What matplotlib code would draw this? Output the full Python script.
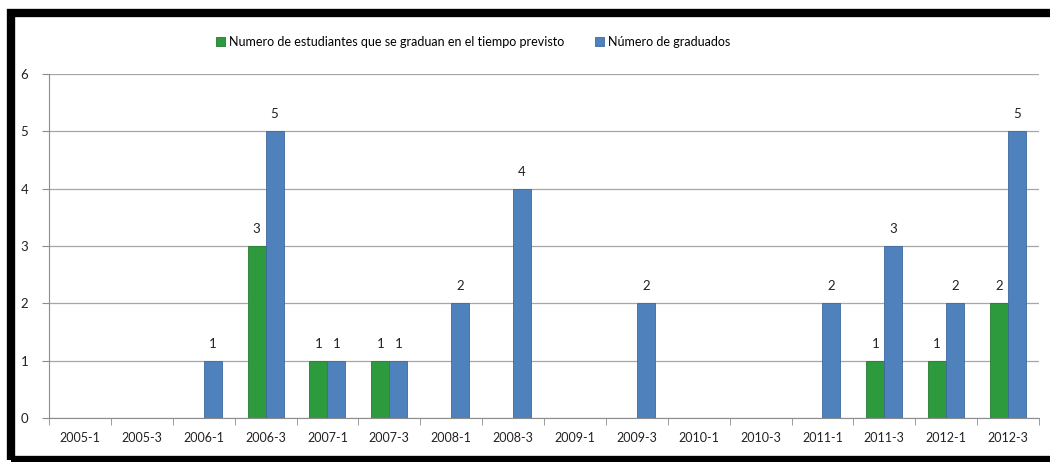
import numpy as np
import matplotlib.pyplot as plt
from matplotlib.patches import Rectangle

# Graduates per period
periods = ['2005-1', '2005-3', '2006-1', '2006-3', '2007-1', '2007-3', '2008-1', '2008-3',
           '2009-1', '2009-3', '2010-1', '2010-3', '2011-1', '2011-3', '2012-1', '2012-3']
a_tiempo = [0, 0, 0, 3, 1, 1, 0, 0, 0, 0, 0, 0, 0, 1, 1, 2]
graduados = [0, 0, 1, 5, 1, 1, 2, 4, 0, 2, 0, 0, 2, 3, 2, 5]

plt.rcParams['font.family'] = ['Lato', 'DejaVu Sans']

fig = plt.figure(figsize=(10.5, 4.62), dpi=100)
ax = fig.add_axes([49 / 1050, 44 / 462, 990 / 1050, 344 / 462])

x = np.arange(len(periods))
w = 0.29
green = '#2e9a3e'
blue = '#4f81bd'

b1 = ax.bar(x - w / 2, a_tiempo, w, color=green, edgecolor='#237a30', linewidth=0.6,
            label='Numero de estudiantes que se graduan en el tiempo previsto')
b2 = ax.bar(x + w / 2, graduados, w, color=blue, edgecolor='#3c6a9e', linewidth=0.6,
            label='Número de graduados')

for bars, vals in ((b1, a_tiempo), (b2, graduados)):
    for bar, v in zip(bars, vals):
        if v > 0:
            ax.annotate(str(v), (bar.get_x() + bar.get_width() / 2, v),
                        xytext=(0, 8), textcoords='offset points',
                        ha='center', va='bottom', fontsize=9.5, color='#222222')

ax.set_xlim(-0.5, len(periods) - 0.5)
ax.set_ylim(0, 6)
ax.set_yticks(range(7))
ax.yaxis.grid(True, color='#a6a6a6', linewidth=0.9)
ax.set_axisbelow(True)

ax.set_xticks(x)
ax.set_xticklabels(periods, fontsize=9, color='#222222')
ax.set_xticks(np.arange(-0.5, len(periods)), minor=True)
ax.tick_params(axis='x', which='major', length=0, pad=10)
ax.tick_params(axis='x', which='minor', length=5, color='#8c8c8c', direction='out')
ax.tick_params(axis='y', length=5, color='#8c8c8c', labelsize=9.5, labelcolor='#222222', pad=10)

for side in ['top', 'right']:
    ax.spines[side].set_visible(False)
ax.spines['left'].set_color('#8c8c8c')
ax.spines['bottom'].set_color('#8c8c8c')

leg = fig.legend(handles=[b1, b2], loc='center', bbox_to_anchor=(473 / 1050, 1 - 42 / 462),
                 ncol=2, frameon=False, fontsize=9, handlelength=0.7, handleheight=0.7,
                 handletextpad=0.3, columnspacing=2.5)

# black picture frame (right side runs off the image)
fig.patches.append(Rectangle((11 / 1050, 2 / 462), 1.2, 447 / 462, transform=fig.transFigure,
                             fill=False, edgecolor='black', linewidth=6, joinstyle='miter',
                             zorder=10))

fig.savefig('out.png', dpi=100)
